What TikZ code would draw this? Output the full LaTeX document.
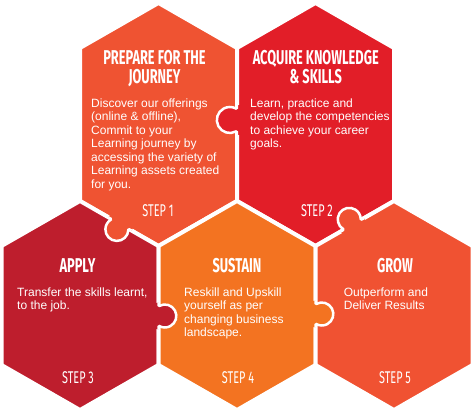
\documentclass[tikz,border=0pt]{standalone}
\usepackage{fontspec}
\setmainfont{Liberation Sans}
\newfontfamily\titlefont[FakeStretch=0.64]{Fira Sans}
\usetikzlibrary{calc}
\definecolor{cOne}{HTML}{EF5332}
\definecolor{cTwo}{HTML}{E21E28}
\definecolor{cThree}{HTML}{BE1E2D}
\definecolor{cFour}{HTML}{F37321}
\definecolor{cFive}{HTML}{F05232}
\newcommand\puzzleknob[4]{%
  \begin{scope}[shift={#1}, rotate=#2, scale=#3]
    \fill[#4] (-11.5,0) .. controls (-9.8,0) and (-8.36,-0.07) .. (-8.83,0.81)
      arc[start angle=208, end angle=-28, radius=10]
      .. controls (8.36,-0.07) and (9.8,0) .. (11.5,0) -- (11.5,-3) -- (-11.5,-3) -- cycle;
    \draw[knobline] (-11.5,0) .. controls (-9.8,0) and (-8.36,-0.07) .. (-8.83,0.81)
      arc[start angle=208, end angle=-28, radius=10]
      .. controls (8.36,-0.07) and (9.8,0) .. (11.5,0);
  \end{scope}}
\begin{document}
\begin{tikzpicture}[x=1pt,y=1pt,
  hexa/.style={draw=white, line width=4pt, line join=miter},
  knobline/.style={draw=white, line width=2.5pt},
  ttl/.style={inner sep=0, text=white, font=\titlefont\bfseries\fontsize{20}{19.5}\selectfont, align=center, anchor=north},
  body/.style={inner sep=0, text=white, font=\fontsize{12}{13.5}\selectfont, align=left, anchor=north west},
  steplbl/.style={inner sep=0, text=white, font=\titlefont\fontsize{17}{17}\selectfont, anchor=base}]
\fill[white] (0,0) rectangle (474,414);
\useasboundingbox (0,0) rectangle (474,414);
% hexagons
\filldraw[hexa, fill=cOne]   (158.5,411) -- (237,366) -- (237,213) -- (158.5,168) -- (80,213) -- (80,366) -- cycle;
\filldraw[hexa, fill=cTwo]   (315.5,411) -- (394,366) -- (394,213) -- (315.5,168) -- (237,213) -- (237,366) -- cycle;
\filldraw[hexa, fill=cThree] (80,213) -- (158.5,168) -- (158.5,49) -- (80,4) -- (1.5,49) -- (1.5,168) -- cycle;
\filldraw[hexa, fill=cFour]  (237,213) -- (315.5,168) -- (315.5,49) -- (237,4) -- (158.5,49) -- (158.5,168) -- cycle;
\filldraw[hexa, fill=cFive]  (394,213) -- (472.5,168) -- (472.5,49) -- (394,4) -- (315.5,49) -- (315.5,168) -- cycle;
% puzzle knobs
\puzzleknob{(237,294)}{90}{1.3}{cTwo}
\puzzleknob{($(80,213)!0.51!(158.5,168)$)}{150.2}{1.15}{cOne}
\puzzleknob{($(315.5,168)!0.47!(394,213)$)}{29.8}{1.15}{cFive}
\puzzleknob{(158.5,98)}{-90}{1.15}{cThree}
\puzzleknob{(315.5,100)}{-90}{1.15}{cFour}
% texts
\node[ttl] (t1) at (154.5,364) {PREPARE FOR THE\\JOURNEY};
\node[ttl] (t2) at (315.8,364) {ACQUIRE KNOWLEDGE\\\& SKILLS};
\node[ttl] (t3) at (77.5,155.7) {APPLY};
\node[ttl] (t4) at (237,155.7) {SUSTAIN};
\node[ttl] (t5) at (395,155.7) {GROW};
\node[body] (b1) at (91,315.7) {Discover our offerings\\(online \& offline),\\Commit to your\\Learning journey by\\accessing the variety of\\Learning assets created\\for you.};
\node[body] (b2) at (250,315.7) {Learn, practice and\\develop the competencies\\to achieve your career\\goals.};
\node[body] (b3) at (17,126.7) {Transfer the skills learnt,\\to the job.};
\node[body] (b4) at (184,126.7) {Reskill and Upskill\\yourself as per\\changing business\\landscape.};
\node[body] (b5) at (343.7,126.7) {Outperform and\\Deliver Results};
\node[steplbl] (s1) at (158,197.3) {STEP 1};
\node[steplbl] (s2) at (317,197.3) {STEP 2};
\node[steplbl] (s3) at (78,30) {STEP 3};
\node[steplbl] (s4) at (238,30) {STEP 4};
\node[steplbl] (s5) at (395,30) {STEP 5};
\end{tikzpicture}
\end{document}
